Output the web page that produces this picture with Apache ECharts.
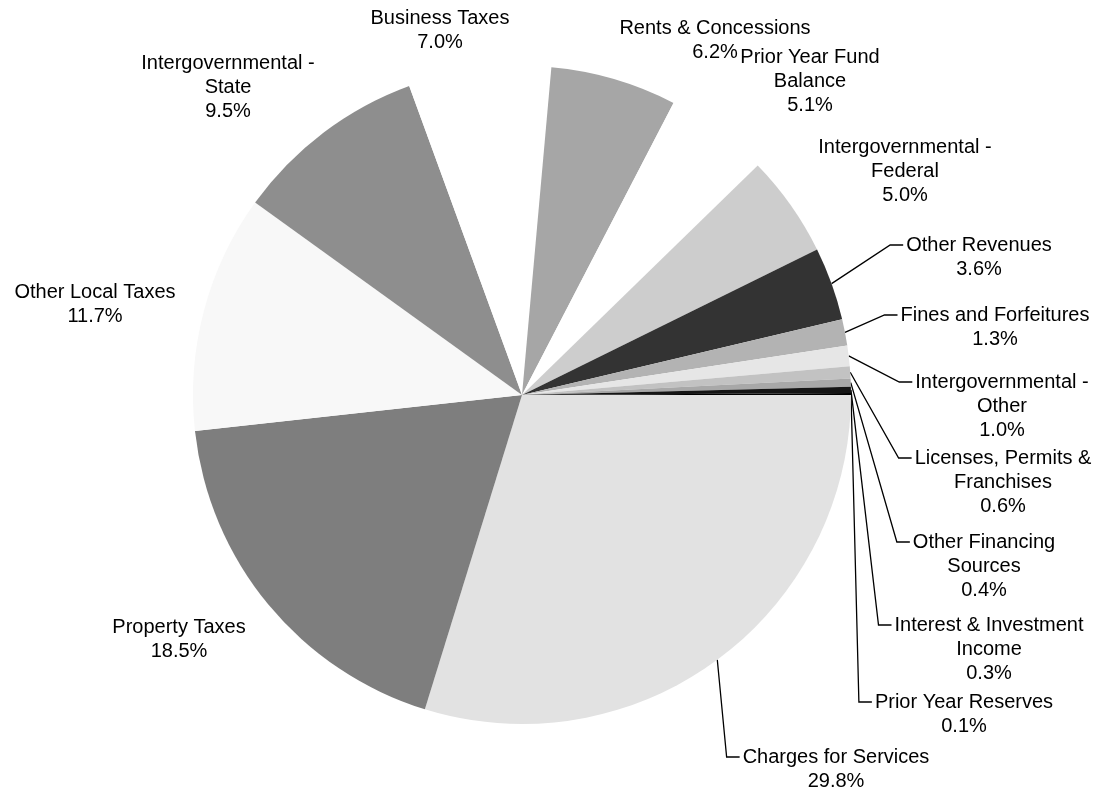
<!DOCTYPE html>
<html>
<head>
<meta charset="utf-8">
<title>Revenue Sources</title>
<script src="https://cdn.jsdelivr.net/npm/echarts@6/dist/echarts.min.js"></script>
<style>
  html, body { margin: 0; padding: 0; background: #fff; }
  #chart { width: 1099px; height: 792px; }
</style>
</head>
<body>
<div id="chart"></div>
<script>
// slices run clockwise from 3 o'clock, same order as the printed chart
var sources = [
  'Charges for Services',
  'Property Taxes',
  'Other Local Taxes',
  'Intergovernmental -\nState',
  'Business Taxes',
  'Rents & Concessions',
  'Prior Year Fund\nBalance',
  'Intergovernmental -\nFederal',
  'Other Revenues',
  'Fines and Forfeitures',
  'Intergovernmental -\nOther',
  'Licenses, Permits &\nFranchises',
  'Other Financing\nSources',
  'Interest & Investment\nIncome',
  'Prior Year Reserves'
];
var shares = [29.8, 18.5, 11.7, 9.5, 7.0, 6.2, 5.1, 5.0, 3.6, 1.3, 1.0, 0.6, 0.4, 0.3, 0.1];

// grey tones of the scanned print
var fills = [
  '#e2e2e2', '#7e7e7e', '#f8f8f8', '#8e8e8e', '#ffffff',
  '#a6a6a6', '#ffffff', '#cdcdcd', '#333333', '#b3b3b3',
  '#e6e6e6', '#c2c2c2', '#a8a8a8', '#151515', '#000000'
];

// label placement: centre x, middle of the first text line
var labelSpots = [
  [836, 757], [179, 627], [95, 292], [228, 63], [440, 18],
  [715, 28], [810, 57], [905, 147], [979, 245], [995, 315],
  [1002, 382], [1003, 458], [984, 542], [989, 625], [964, 702]
];
// which labels are tied to their slice with a leader line
var withLeader = [true, false, false, false, false, false, false, false,
  true, true, true, true, true, true, true];

var lineH = 24;

window.onload = function () {
  var pieData = [];
  for (var i = 0; i < sources.length; i++) {
    pieData.push({
      name: sources[i],
      value: shares[i],
      itemStyle: { color: fills[i] },
      labelLine: { show: withLeader[i] }
    });
  }

  var option = {
    animation: false,
    backgroundColor: '#fff',
    series: [{
      type: 'pie',
      center: [522, 395],
      radius: 329,
      startAngle: 0,
      clockwise: true,
      avoidLabelOverlap: false,
      itemStyle: { borderWidth: 0 },
      label: {
        show: true,
        position: 'outside',
        color: '#000',
        fontFamily: 'Liberation Sans, Arial, sans-serif',
        fontSize: 20,
        lineHeight: lineH,
        overflow: 'none',
        formatter: function (p) {
          return p.name + '\n' + p.value.toFixed(1) + '%';
        }
      },
      labelLine: {
        show: false,
        length: 4,
        length2: 4,
        smooth: false,
        lineStyle: { color: '#000', width: 1.3 }
      },
      labelLayout: function (params) {
        var i = params.dataIndex;
        var spot = labelSpots[i];
        var out = {
          x: spot[0],
          y: spot[1] - lineH / 2,
          align: 'center',
          verticalAlign: 'top'
        };
        if (withLeader[i] && params.labelLinePoints) {
          var left = spot[0] - params.labelRect.width / 2;
          out.labelLinePoints = [
            params.labelLinePoints[0],
            [left - 16, spot[1]],
            [left - 3, spot[1]]
          ];
        }
        return out;
      },
      emphasis: { disabled: true },
      data: pieData
    }]
  };

  echarts.init(document.getElementById('chart')).setOption(option);
};
</script>
</body>
</html>
